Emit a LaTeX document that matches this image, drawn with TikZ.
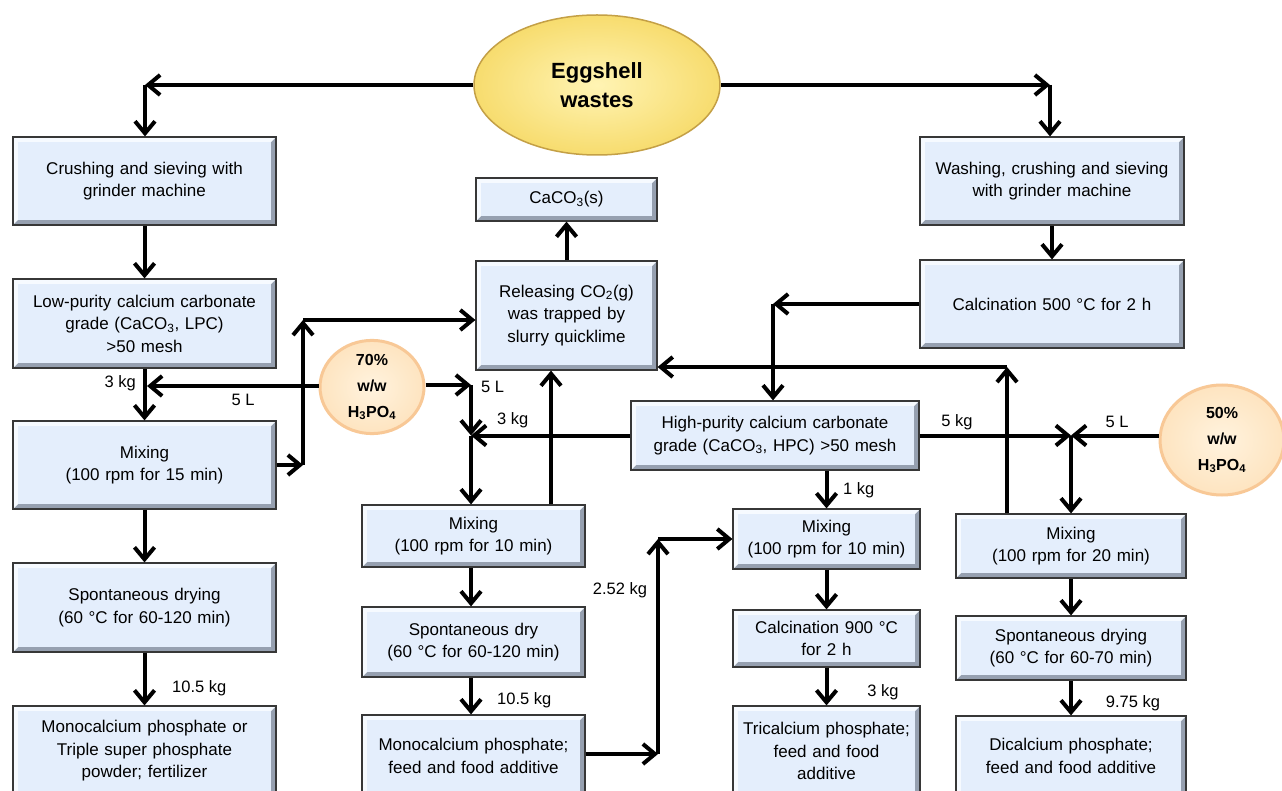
\documentclass[tikz,border=0pt]{standalone}
\usepackage{fontspec}
\setmainfont{Liberation Sans}
\usetikzlibrary{arrows.meta,shapes.geometric,calc}
\definecolor{face}{RGB}{228,238,252}
\definecolor{bevlight}{RGB}{246,250,255}
\definecolor{bevdark}{RGB}{150,160,176}
\definecolor{boxline}{RGB}{55,55,55}
\definecolor{eggin}{RGB}{255,244,180}
\definecolor{eggout}{RGB}{247,220,110}
\definecolor{eggline}{RGB}{196,160,70}
\definecolor{acidin}{RGB}{255,243,222}
\definecolor{acidout}{RGB}{254,228,192}
\definecolor{acidline}{RGB}{248,200,150}
\tikzset{
  box/.style={rectangle, draw=boxline, line width=1.2pt, inner sep=0pt, align=center,
    font=\fontsize{17}{22.5}\selectfont,
    path picture={
      \fill[bevdark] (path picture bounding box.south west) rectangle (path picture bounding box.north east);
      \fill[bevlight] (path picture bounding box.south west) -- (path picture bounding box.north west)
        -- (path picture bounding box.north east) -- ([shift={(-5pt,-5pt)}]path picture bounding box.north east)
        -- ([shift={(5pt,-5pt)}]path picture bounding box.north west) -- ([shift={(5pt,5pt)}]path picture bounding box.south west) -- cycle;
      \fill[face] ([shift={(5pt,5pt)}]path picture bounding box.south west) rectangle ([shift={(-5pt,-5pt)}]path picture bounding box.north east);
    }},
  arr/.style={line width=4pt, -{Straight Barb[length=12pt,width=20pt,line width=4pt]}},
  lbl/.style={font=\fontsize{16.5}{20}\selectfont, inner sep=0pt},
  acid/.style={ellipse, draw=acidline, line width=3pt, inner color=acidin, outer color=acidout,
    inner sep=0pt, align=center, font=\fontsize{16}{26}\selectfont\bfseries},
}
\newcommand\mybox[6]{%
  \pgfmathsetmacro\bw{#4-#2}\pgfmathsetmacro\bh{#5-#3}\pgfmathsetmacro\tw{#4-#2-12}%
  \pgfmathsetmacro\bx{(#2+#4)/2}\pgfmathsetmacro\by{(#3+#5)/2}%
  \node[box, minimum width=\bw pt, minimum height=\bh pt, text width=\tw pt] (#1) at (\bx,\by) {#6};}
\begin{document}
\begin{tikzpicture}[x=1pt,y=-1pt]
\useasboundingbox (0,0) rectangle (1282,791);
\clip (0,0) rectangle (1282,791);
\fill[white] (0,0) rectangle (1282,791);
% nodes
\node[ellipse, draw=eggline, line width=1.5pt, inner color=eggin, outer color=eggout,
  minimum width=246pt, minimum height=140pt, align=center,
  font=\fontsize{22}{29}\selectfont\bfseries] (egg) at (597,85) {Eggshell\\wastes};
\mybox{crush}{13}{137}{276}{225}{Crushing and sieving with\\grinder machine}
\mybox{lpc}{13}{279}{276}{368}{Low-purity calcium carbonate\\grade (CaCO\textsubscript{3}, LPC)\\>50 mesh}
\mybox{mix15}{13}{421}{276}{509}{Mixing\\(100 rpm for 15 min)}
\mybox{sdA}{13}{563}{276}{652}{Spontaneous drying\\(60 °C for 60-120 min)}
\mybox{monoA}{13}{706}{276}{796}{Monocalcium phosphate or\\Triple super phosphate\\powder; fertilizer}
\mybox{caco}{476}{178}{657}{221}{CaCO\textsubscript{3}(s)}
\mybox{rel}{476}{261}{657}{370}{Releasing CO\textsubscript{2}(g)\\was trapped by\\slurry quicklime}
\mybox{wash}{920}{137}{1184}{225}{Washing, crushing and sieving\\with grinder machine}
\mybox{calcA}{920}{260}{1184}{348}{Calcination 500 °C for 2 h}
\mybox{hpc}{631}{401}{919}{470}{High-purity calcium carbonate\\grade (CaCO\textsubscript{3}, HPC) >50 mesh}
\mybox{mixA}{362}{505}{585}{567}{Mixing\\(100 rpm for 10 min)}
\mybox{sdry}{362}{607}{585}{677}{Spontaneous dry\\(60 °C for 60-120 min)}
\mybox{monoB}{362}{715}{585}{797}{Monocalcium phosphate;\\feed and food additive}
\mybox{mixB}{733}{509}{920}{569}{Mixing\\(100 rpm for 10 min)}
\mybox{calcB}{733}{610}{920}{667}{Calcination 900 °C\\for 2 h}
\mybox{tri}{733}{706}{920}{796}{Tricalcium phosphate;\\feed and food\\additive}
\mybox{mixC}{956}{514}{1186}{578}{Mixing\\(100 rpm for 20 min)}
\mybox{sdB}{956}{616}{1186}{680}{Spontaneous drying\\(60 °C for 60-70 min)}
\mybox{dical}{956}{716}{1186}{796}{Dicalcium phosphate;\\feed and food additive}
\node[acid, minimum width=104pt, minimum height=88pt] (cA) at (372,387) {70\%\\w/w\\H\textsubscript{3}PO\textsubscript{4}};
\node[acid, minimum width=124pt, minimum height=110pt] (cB) at (1222,440) {50\%\\w/w\\H\textsubscript{3}PO\textsubscript{4}};
% junctions
\coordinate (jL) at (145,85);
\coordinate (jR) at (1050,85);
\coordinate (jA) at (147,386);
\coordinate (jB) at (303,465);
\coordinate (jC) at (303,320);
\coordinate (jD) at (471,385);
\coordinate (jE) at (471,435.5);
\coordinate (xr) at (551,0);
\coordinate (jF) at (773,304);
\coordinate (jG) at (1007,367);
\coordinate (jH) at (1071,435.5);
\coordinate (jI) at (658,754);
\coordinate (jJ) at (658,539);
% connectors
\draw[arr] (egg.west) -- (jL);
\draw[arr] (jL) -- (jL |- crush.north);
\draw[arr] (egg.east) -- (jR);
\draw[arr] (jR) -- (jR |- wash.north);
\draw[arr] (crush.south) -- (lpc.north);
\draw[arr] (lpc.south) -- (mix15.north);
\draw[arr] (cA.west |- jA) -- (jA);
\draw[arr] (mix15.east |- jB) -- (jB);
\draw[arr] (jB) -- (jC);
\draw[arr] (jC) -- (jC -| rel.west);
\draw[arr] (cA.east |- jD) -- (jD);
\draw[arr] (jD) -- (jE);
\draw[arr] (hpc.west) -- (jE);
\draw[arr] (jE) -- (jE |- mixA.north);
\draw[arr] (xr |- mixA.north) -- (xr |- rel.south);
\draw[arr] (rel.north) -- (caco.south);
\draw[arr] (wash.south) -- (calcA.north);
\draw[arr] (calcA.west) -- (jF);
\draw[arr] (jF) -- (jF |- hpc.north);
\draw[arr] (jG |- mixC.north) -- (jG);
\draw[arr] (jG) -- (jG -| rel.east);
\draw[arr] (hpc.east) -- (jH);
\draw[arr] (cB.west |- jH) -- (jH);
\draw[arr] (jH) -- (jH |- mixC.north);
\draw[arr] (mixB.north |- hpc.south) -- (mixB.north);
\draw[arr] (mixA.south -| jE) -- (jE |- sdry.north);
\draw[arr] (sdry.south -| jE) -- (jE |- monoB.north);
\draw[arr] (monoB.east |- jI) -- (jI);
\draw[arr] (jI) -- (jJ);
\draw[arr] (jJ) -- (jJ -| mixB.west);
\draw[arr] (mixB.south) -- (calcB.north);
\draw[arr] (calcB.south) -- (tri.north);
\draw[arr] (mixC.south) -- (sdB.north);
\draw[arr] (sdB.south) -- (dical.north);
\draw[arr] (mix15.south) -- (sdA.north);
\draw[arr] (sdA.south) -- (monoA.north);
% labels
\node[lbl, anchor=east] (l1) at (136,383) {3 kg};
\node[lbl] (l2) at (243,400) {5 L};
\node[lbl, anchor=west] (l3) at (481,387) {5 L};
\node[lbl, anchor=west] (l4) at (497,420) {3 kg};
\node[lbl] (l5) at (957,422) {5 kg};
\node[lbl] (l6) at (1117,422) {5 L};
\node[lbl, anchor=west] (l7) at (843,490) {1 kg};
\node[lbl, anchor=west] (l8) at (172,688) {10.5 kg};
\node[lbl] (l9) at (620,590) {2.52 kg};
\node[lbl, anchor=west] (l10) at (497,700) {10.5 kg};
\node[lbl] (l11) at (883,692) {3 kg};
\node[lbl] (l12) at (1133,703) {9.75 kg};
\end{tikzpicture}
\end{document}
